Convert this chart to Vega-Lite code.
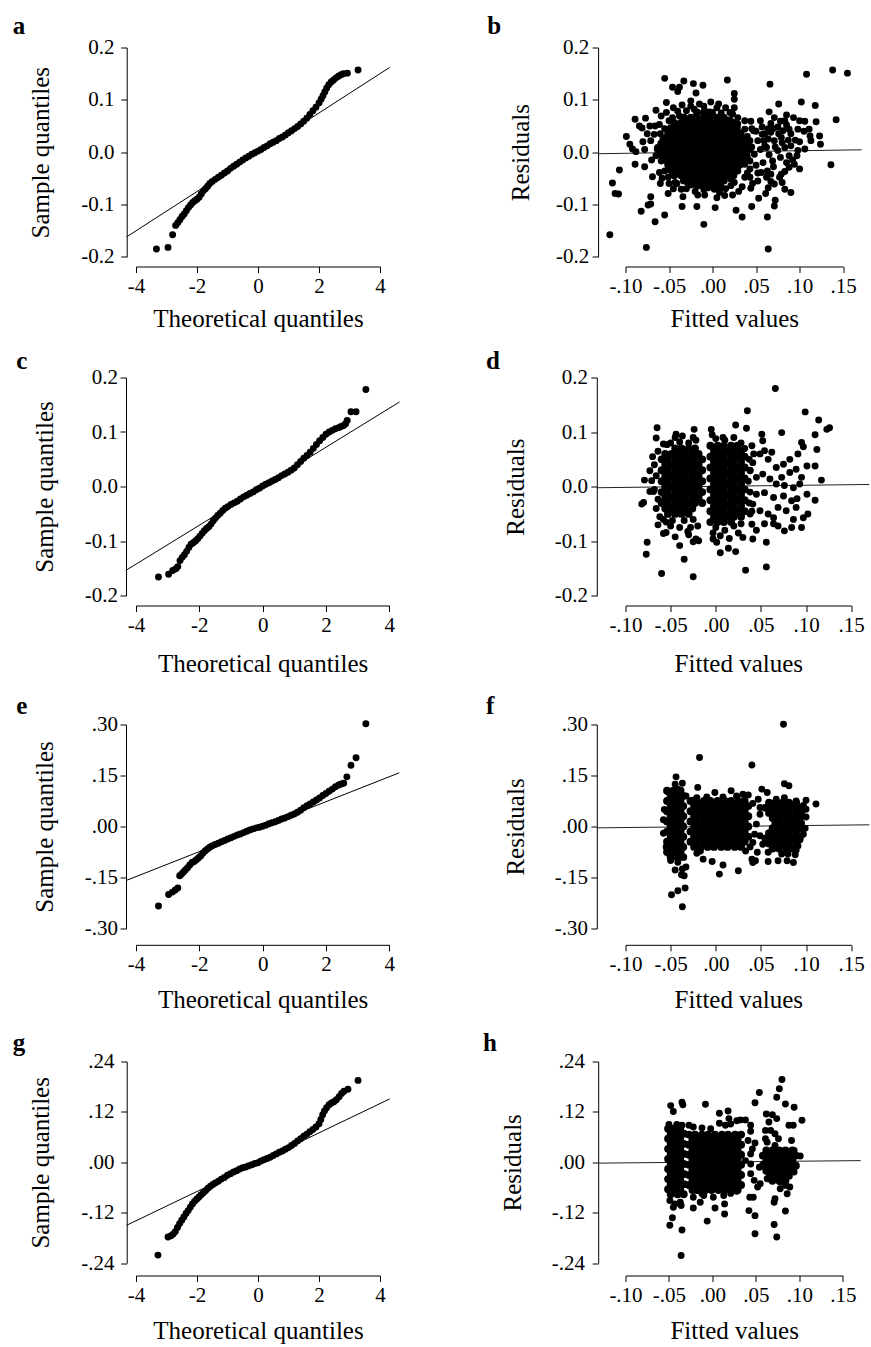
{
"$schema": "https://vega.github.io/schema/vega-lite/v6.json",
"padding": {"left": 12, "top": 13.5, "right": 0, "bottom": 0},
"columns": 2,
"align": "each",
"bounds": "full",
"spacing": {"row": 17, "column": 80.5},
"config": {
 "view": {"stroke": null},
 "font": "Liberation Serif",
 "axis": {"grid": false, "domainColor": "#000", "tickColor": "#000", "labelColor": "#000", "titleColor": "#000", "labelFont": "Liberation Serif", "titleFont": "Liberation Serif", "labelFontSize": 21, "titleFontSize": 25, "titleFontWeight": "normal", "tickSize": 6, "labelPadding": 3, "labelOverlap": false, "labelFlush": false, "labelBound": false, "domainWidth": 1, "tickWidth": 1},
 "title": {"font": "Liberation Serif", "fontSize": 25, "fontWeight": "bold", "anchor": "start", "frame": "group", "color": "#000"}
},
"datasets": {
"la": [{"x":-4.31,"y":-0.162},{"x":4.32,"y":0.162}],
"lc": [{"x":-4.32,"y":-0.154},{"x":4.32,"y":0.155}],
"le": [{"x":-4.316,"y":-0.159},{"x":4.316,"y":0.158}],
"lg": [{"x":-4.31,"y":-0.150},{"x":4.32,"y":0.151}],
"lb": [{"x":-0.1315,"y":-0.003},{"x":0.1713,"y":0.0045}],
"ld": [{"x":-0.1318,"y":-0.002},{"x":0.170,"y":0.004}],
"lf": [{"x":-0.1318,"y":-0.004},{"x":0.170,"y":0.005}],
"lh": [{"x":-0.1314,"y":-0.002},{"x":0.1705,"y":0.004}],
"qa": [{"x":-3.33,"y":-0.185},{"x":-2.95,"y":-0.182},{"x":-2.80,"y":-0.158},{"x":-2.70,"y":-0.140},{"x":-2.63,"y":-0.135},{"x":-2.56,"y":-0.129},{"x":-2.49,"y":-0.123},{"x":-2.42,"y":-0.118},{"x":-2.35,"y":-0.112},{"x":-2.28,"y":-0.106},{"x":-2.21,"y":-0.101},{"x":-2.14,"y":-0.096},{"x":-2.07,"y":-0.093},{"x":-2.00,"y":-0.090},{"x":-1.93,"y":-0.086},{"x":-1.86,"y":-0.080},{"x":-1.79,"y":-0.074},{"x":-1.72,"y":-0.070},{"x":-1.65,"y":-0.065},{"x":-1.58,"y":-0.060},{"x":-1.50,"y":-0.056},{"x":-1.40,"y":-0.052},{"x":-1.30,"y":-0.048},{"x":-1.20,"y":-0.044},{"x":-1.10,"y":-0.040},{"x":-1.00,"y":-0.036},{"x":-0.90,"y":-0.031},{"x":-0.80,"y":-0.027},{"x":-0.70,"y":-0.023},{"x":-0.60,"y":-0.019},{"x":-0.50,"y":-0.015},{"x":-0.40,"y":-0.011},{"x":-0.30,"y":-0.008},{"x":-0.20,"y":-0.004},{"x":-0.10,"y":-0.001},{"x":0.00,"y":0.002},{"x":0.10,"y":0.005},{"x":0.20,"y":0.009},{"x":0.30,"y":0.012},{"x":0.40,"y":0.016},{"x":0.50,"y":0.019},{"x":0.60,"y":0.022},{"x":0.70,"y":0.026},{"x":0.80,"y":0.029},{"x":0.90,"y":0.033},{"x":1.00,"y":0.037},{"x":1.10,"y":0.041},{"x":1.20,"y":0.045},{"x":1.30,"y":0.049},{"x":1.40,"y":0.054},{"x":1.50,"y":0.059},{"x":1.60,"y":0.065},{"x":1.70,"y":0.072},{"x":1.80,"y":0.079},{"x":1.90,"y":0.086},{"x":2.00,"y":0.094},{"x":2.07,"y":0.101},{"x":2.13,"y":0.108},{"x":2.19,"y":0.115},{"x":2.25,"y":0.122},{"x":2.32,"y":0.129},{"x":2.40,"y":0.134},{"x":2.48,"y":0.138},{"x":2.56,"y":0.142},{"x":2.64,"y":0.145},{"x":2.72,"y":0.148},{"x":2.80,"y":0.150},{"x":2.93,"y":0.151},{"x":3.28,"y":0.157}],
"qc": [{"x":-3.29,"y":-0.166},{"x":-2.97,"y":-0.161},{"x":-2.84,"y":-0.154},{"x":-2.74,"y":-0.151},{"x":-2.68,"y":-0.147},{"x":-2.61,"y":-0.136},{"x":-2.54,"y":-0.130},{"x":-2.47,"y":-0.125},{"x":-2.40,"y":-0.119},{"x":-2.33,"y":-0.112},{"x":-2.26,"y":-0.106},{"x":-2.19,"y":-0.103},{"x":-2.12,"y":-0.100},{"x":-2.05,"y":-0.096},{"x":-1.98,"y":-0.091},{"x":-1.91,"y":-0.086},{"x":-1.84,"y":-0.081},{"x":-1.77,"y":-0.077},{"x":-1.70,"y":-0.074},{"x":-1.63,"y":-0.069},{"x":-1.56,"y":-0.063},{"x":-1.49,"y":-0.058},{"x":-1.42,"y":-0.053},{"x":-1.34,"y":-0.049},{"x":-1.26,"y":-0.044},{"x":-1.18,"y":-0.040},{"x":-1.10,"y":-0.037},{"x":-1.00,"y":-0.033},{"x":-0.90,"y":-0.030},{"x":-0.80,"y":-0.027},{"x":-0.70,"y":-0.023},{"x":-0.60,"y":-0.019},{"x":-0.50,"y":-0.016},{"x":-0.40,"y":-0.013},{"x":-0.30,"y":-0.010},{"x":-0.20,"y":-0.006},{"x":-0.10,"y":-0.003},{"x":0.00,"y":0.001},{"x":0.10,"y":0.004},{"x":0.20,"y":0.007},{"x":0.30,"y":0.010},{"x":0.40,"y":0.013},{"x":0.50,"y":0.016},{"x":0.60,"y":0.020},{"x":0.70,"y":0.023},{"x":0.80,"y":0.026},{"x":0.90,"y":0.030},{"x":1.00,"y":0.034},{"x":1.10,"y":0.040},{"x":1.20,"y":0.046},{"x":1.30,"y":0.052},{"x":1.40,"y":0.057},{"x":1.50,"y":0.063},{"x":1.60,"y":0.070},{"x":1.70,"y":0.077},{"x":1.80,"y":0.084},{"x":1.90,"y":0.090},{"x":2.00,"y":0.096},{"x":2.10,"y":0.100},{"x":2.20,"y":0.103},{"x":2.30,"y":0.106},{"x":2.40,"y":0.108},{"x":2.48,"y":0.110},{"x":2.56,"y":0.112},{"x":2.62,"y":0.115},{"x":2.67,"y":0.121},{"x":2.79,"y":0.137},{"x":2.95,"y":0.137},{"x":3.26,"y":0.178}],
"qe": [{"x":-3.29,"y":-0.234},{"x":-2.97,"y":-0.200},{"x":-2.85,"y":-0.193},{"x":-2.76,"y":-0.187},{"x":-2.68,"y":-0.181},{"x":-2.62,"y":-0.145},{"x":-2.56,"y":-0.140},{"x":-2.50,"y":-0.134},{"x":-2.44,"y":-0.128},{"x":-2.37,"y":-0.121},{"x":-2.30,"y":-0.113},{"x":-2.23,"y":-0.106},{"x":-2.16,"y":-0.103},{"x":-2.09,"y":-0.098},{"x":-2.02,"y":-0.092},{"x":-1.95,"y":-0.086},{"x":-1.88,"y":-0.078},{"x":-1.81,"y":-0.071},{"x":-1.74,"y":-0.066},{"x":-1.67,"y":-0.061},{"x":-1.60,"y":-0.057},{"x":-1.50,"y":-0.053},{"x":-1.40,"y":-0.049},{"x":-1.30,"y":-0.045},{"x":-1.20,"y":-0.041},{"x":-1.10,"y":-0.037},{"x":-1.00,"y":-0.033},{"x":-0.90,"y":-0.029},{"x":-0.80,"y":-0.025},{"x":-0.70,"y":-0.022},{"x":-0.60,"y":-0.018},{"x":-0.50,"y":-0.014},{"x":-0.40,"y":-0.010},{"x":-0.30,"y":-0.007},{"x":-0.20,"y":-0.004},{"x":-0.10,"y":-0.002},{"x":0.00,"y":0.001},{"x":0.10,"y":0.004},{"x":0.20,"y":0.008},{"x":0.30,"y":0.011},{"x":0.40,"y":0.014},{"x":0.50,"y":0.018},{"x":0.60,"y":0.022},{"x":0.70,"y":0.025},{"x":0.80,"y":0.029},{"x":0.90,"y":0.033},{"x":1.00,"y":0.037},{"x":1.10,"y":0.042},{"x":1.20,"y":0.048},{"x":1.30,"y":0.055},{"x":1.40,"y":0.061},{"x":1.50,"y":0.066},{"x":1.60,"y":0.072},{"x":1.70,"y":0.078},{"x":1.80,"y":0.084},{"x":1.90,"y":0.091},{"x":2.00,"y":0.097},{"x":2.10,"y":0.104},{"x":2.20,"y":0.110},{"x":2.30,"y":0.117},{"x":2.40,"y":0.122},{"x":2.48,"y":0.125},{"x":2.56,"y":0.127},{"x":2.66,"y":0.146},{"x":2.79,"y":0.180},{"x":2.95,"y":0.202},{"x":3.26,"y":0.302}],
"qg": [{"x":-3.28,"y":-0.221},{"x":-2.95,"y":-0.178},{"x":-2.85,"y":-0.175},{"x":-2.78,"y":-0.171},{"x":-2.71,"y":-0.165},{"x":-2.64,"y":-0.155},{"x":-2.57,"y":-0.146},{"x":-2.50,"y":-0.138},{"x":-2.43,"y":-0.130},{"x":-2.36,"y":-0.122},{"x":-2.29,"y":-0.115},{"x":-2.22,"y":-0.107},{"x":-2.15,"y":-0.099},{"x":-2.08,"y":-0.093},{"x":-2.01,"y":-0.088},{"x":-1.94,"y":-0.083},{"x":-1.87,"y":-0.078},{"x":-1.80,"y":-0.073},{"x":-1.72,"y":-0.068},{"x":-1.64,"y":-0.062},{"x":-1.56,"y":-0.057},{"x":-1.48,"y":-0.053},{"x":-1.40,"y":-0.049},{"x":-1.30,"y":-0.045},{"x":-1.20,"y":-0.040},{"x":-1.10,"y":-0.036},{"x":-1.00,"y":-0.031},{"x":-0.90,"y":-0.027},{"x":-0.80,"y":-0.023},{"x":-0.70,"y":-0.020},{"x":-0.60,"y":-0.016},{"x":-0.50,"y":-0.013},{"x":-0.40,"y":-0.011},{"x":-0.30,"y":-0.008},{"x":-0.20,"y":-0.006},{"x":-0.10,"y":-0.003},{"x":0.00,"y":-0.001},{"x":0.10,"y":0.003},{"x":0.20,"y":0.006},{"x":0.30,"y":0.009},{"x":0.40,"y":0.012},{"x":0.50,"y":0.016},{"x":0.60,"y":0.020},{"x":0.70,"y":0.024},{"x":0.80,"y":0.027},{"x":0.90,"y":0.031},{"x":1.00,"y":0.035},{"x":1.10,"y":0.040},{"x":1.20,"y":0.045},{"x":1.30,"y":0.051},{"x":1.40,"y":0.056},{"x":1.50,"y":0.062},{"x":1.60,"y":0.067},{"x":1.70,"y":0.073},{"x":1.80,"y":0.078},{"x":1.90,"y":0.084},{"x":2.00,"y":0.092},{"x":2.06,"y":0.102},{"x":2.12,"y":0.113},{"x":2.18,"y":0.122},{"x":2.25,"y":0.130},{"x":2.33,"y":0.137},{"x":2.41,"y":0.141},{"x":2.49,"y":0.144},{"x":2.57,"y":0.149},{"x":2.66,"y":0.156},{"x":2.74,"y":0.164},{"x":2.82,"y":0.169},{"x":2.95,"y":0.174},{"x":3.28,"y":0.195}],
"rb": [{"x":-0.055,"y":0.141},{"x":-0.046,"y":0.124},{"x":-0.040,"y":0.116},{"x":-0.038,"y":0.124},{"x":-0.033,"y":0.136},{"x":-0.022,"y":0.131},{"x":-0.011,"y":0.128},{"x":-0.019,"y":0.113},{"x":0.017,"y":0.138},{"x":0.025,"y":0.112},{"x":0.025,"y":0.101},{"x":0.066,"y":0.130},{"x":0.108,"y":0.149},{"x":0.138,"y":0.157},{"x":0.155,"y":0.151},{"x":0.102,"y":0.096},{"x":0.118,"y":0.089},{"x":0.076,"y":0.092},{"x":0.065,"y":0.077},{"x":0.142,"y":0.062},{"x":0.136,"y":-0.024},{"x":-0.118,"y":-0.158},{"x":-0.076,"y":-0.182},{"x":0.064,"y":-0.185},{"x":-0.010,"y":-0.138},{"x":-0.066,"y":-0.133},{"x":-0.082,"y":-0.113},{"x":-0.055,"y":-0.120},{"x":-0.074,"y":-0.101},{"x":-0.071,"y":-0.099},{"x":-0.071,"y":-0.085},{"x":-0.051,"y":-0.079},{"x":-0.115,"y":-0.059},{"x":-0.112,"y":-0.079},{"x":-0.108,"y":-0.080},{"x":-0.107,"y":-0.034},{"x":-0.089,"y":-0.023},{"x":-0.078,"y":-0.028},{"x":-0.069,"y":-0.047},{"x":-0.099,"y":0.030},{"x":-0.095,"y":0.015},{"x":-0.092,"y":0.006},{"x":-0.088,"y":0.001},{"x":-0.089,"y":0.063},{"x":-0.084,"y":0.050},{"x":-0.077,"y":0.065},{"x":-0.081,"y":0.046},{"x":-0.072,"y":0.050},{"x":-0.053,"y":0.095},{"x":-0.025,"y":0.098},{"x":-0.002,"y":0.096},{"x":0.007,"y":0.092},{"x":-0.034,"y":-0.085},{"x":-0.035,"y":-0.104},{"x":-0.018,"y":-0.104},{"x":0.003,"y":-0.106},{"x":-0.009,"y":-0.082},{"x":-0.017,"y":-0.082},{"x":0.005,"y":-0.087},{"x":0.014,"y":-0.083},{"x":0.023,"y":-0.082},{"x":0.027,"y":-0.111},{"x":0.034,"y":-0.124},{"x":0.045,"y":-0.104},{"x":0.053,"y":-0.088},{"x":0.044,"y":-0.069},{"x":0.034,"y":-0.066},{"x":0.061,"y":-0.079},{"x":0.064,"y":-0.068},{"x":0.072,"y":-0.092},{"x":0.071,"y":-0.103},{"x":0.063,"y":-0.124},{"x":0.083,"y":-0.071},{"x":0.090,"y":-0.077},{"x":0.067,"y":-0.056},{"x":0.071,"y":-0.061},{"x":-0.055,"y":-0.036},{"x":-0.061,"y":-0.039},{"x":-0.043,"y":-0.058},{"x":-0.029,"y":-0.058},{"x":-0.041,"y":-0.060},{"x":-0.025,"y":-0.063},{"x":-0.005,"y":-0.068},{"x":0.021,"y":-0.064},{"x":0.037,"y":-0.048},{"x":0.043,"y":-0.048},
{"x":0.067,"y":0.055},{"x":0.067,"y":0.038},{"x":0.075,"y":0.048},{"x":0.078,"y":0.059},{"x":0.085,"y":0.071},{"x":0.093,"y":0.066},{"x":0.100,"y":0.060},{"x":0.106,"y":0.059},{"x":0.119,"y":0.058},{"x":0.111,"y":0.044},{"x":0.112,"y":0.031},{"x":0.123,"y":0.031},{"x":0.113,"y":0.022},{"x":0.124,"y":0.015},{"x":0.106,"y":0.006},{"x":0.097,"y":-0.007},{"x":0.088,"y":-0.007},{"x":0.094,"y":-0.023},{"x":0.100,"y":-0.032},{"x":0.088,"y":-0.029},{"x":0.083,"y":-0.037},{"x":0.079,"y":-0.042},{"x":0.077,"y":-0.048},{"x":0.087,"y":0.023},{"x":0.095,"y":0.023},{"x":0.098,"y":0.044},{"x":0.088,"y":0.044},{"x":0.081,"y":0.041},{"x":0.064,"y":0.025},{"x":0.057,"y":0.048},{"x":0.057,"y":0.034},{"x":0.044,"y":0.059},{"x":0.047,"y":0.041},{"x":0.052,"y":0.022},{"x":0.060,"y":0.012},{"x":0.075,"y":0.003},{"x":0.083,"y":0.009},{"x":0.069,"y":-0.017},{"x":0.063,"y":-0.036},{"x":0.056,"y":-0.039},{"x":0.067,"y":-0.042},{"x":0.052,"y":-0.055},{"x":0.043,"y":-0.032},{"x":0.037,"y":-0.023},{"x":0.071,"y":0.022},{"x":0.079,"y":0.028},{"x":0.090,"y":0.012},{"x":0.098,"y":0.003},{"x":0.071,"y":0.066},{"x":0.083,"y":0.060},{"x":0.062,"y":0.009},{"x":0.043,"y":0.022},{"x":0.048,"y":-0.004},{"x":0.043,"y":-0.017},{"x":0.037,"y":0.044},{"x":0.037,"y":0.060},{"x":0.029,"y":0.066},
{"x":-0.071,"y":0.022},{"x":-0.067,"y":0.034},{"x":-0.063,"y":0.009},{"x":-0.065,"y":-0.007},{"x":-0.059,"y":-0.017},{"x":-0.061,"y":0.053},{"x":-0.059,"y":0.069},{"x":-0.053,"y":0.076},{"x":-0.046,"y":0.066},{"x":-0.038,"y":0.069},{"x":-0.030,"y":0.079},{"x":-0.021,"y":0.082},{"x":-0.009,"y":0.079},{"x":0.000,"y":0.076},{"x":0.012,"y":0.063},{"x":0.020,"y":0.076},{"x":0.023,"y":0.073},{"x":0.029,"y":0.054},{"x":0.033,"y":0.034},{"x":0.035,"y":0.022},{"x":0.033,"y":0.003},{"x":0.031,"y":-0.017},{"x":0.029,"y":-0.036},{"x":0.021,"y":-0.052},{"x":0.010,"y":-0.058},{"x":0.000,"y":-0.061},{"x":-0.013,"y":-0.064},{"x":-0.028,"y":-0.045},{"x":-0.046,"y":-0.042},{"x":-0.051,"y":-0.048},{"x":-0.036,"y":-0.071},{"x":0.002,"y":-0.071},{"x":0.008,"y":-0.077},{"x":-0.075,"y":0.035},{"x":-0.080,"y":0.020},{"x":-0.078,"y":0.005},{"x":-0.070,"y":-0.015},{"x":-0.065,"y":0.080},{"x":-0.045,"y":0.085},{"x":-0.035,"y":0.090},{"x":-0.015,"y":0.092},{"x":0.005,"y":0.085},{"x":0.015,"y":0.085},{"x":-0.045,"y":-0.070},{"x":-0.020,"y":-0.075},{"x":0.015,"y":-0.070},{"x":-0.060,"y":-0.060},
{"x":0.040,"y":0.030},{"x":0.045,"y":0.010},{"x":0.050,"y":0.040},{"x":0.055,"y":0.005},{"x":0.058,"y":-0.020},{"x":0.060,"y":0.035},{"x":0.065,"y":-0.005},{"x":0.070,"y":0.045},{"x":0.072,"y":0.010},{"x":0.078,"y":-0.010},{"x":0.080,"y":0.018},{"x":0.085,"y":-0.020},{"x":0.090,"y":0.035},{"x":0.092,"y":-0.015},{"x":0.050,"y":-0.025},{"x":0.055,"y":0.060},{"x":0.062,"y":-0.048},{"x":0.045,"y":0.045},{"x":0.040,"y":-0.010},{"x":0.052,"y":-0.040},{"x":0.040,"y":-0.040},{"x":0.100,"y":0.020},{"x":0.105,"y":0.040},{"x":0.085,"y":0.052},{"x":0.064,"y":0.045},{"x":0.070,"y":-0.028},{"x":0.076,"y":0.035},{"x":0.059,"y":0.022},{"x":0.046,"y":-0.060},{"x":0.080,"y":-0.058},{"x":-0.050,"y":0.060},{"x":-0.055,"y":0.045},{"x":-0.040,"y":0.078},{"x":-0.025,"y":0.088},{"x":-0.010,"y":0.088},{"x":0.010,"y":0.075},{"x":0.020,"y":0.062},{"x":0.025,"y":0.085},{"x":-0.060,"y":0.035},{"x":-0.066,"y":0.050},{"x":-0.057,"y":0.025},{"x":-0.050,"y":-0.060},{"x":-0.030,"y":-0.070},{"x":-0.010,"y":-0.072},{"x":0.010,"y":-0.068},{"x":0.025,"y":-0.058},{"x":-0.058,"y":-0.050},{"x":0.030,"y":-0.075}],
"rbc": [{"x":-0.018,"y":0.076},{"x":-0.010,"y":0.076},{"x":-0.003,"y":0.076},
{"x":-0.033,"y":0.066},{"x":-0.025,"y":0.066},{"x":-0.018,"y":0.066},{"x":-0.010,"y":0.066},{"x":-0.003,"y":0.066},{"x":0.005,"y":0.066},{"x":0.013,"y":0.066},
{"x":-0.044,"y":0.056},{"x":-0.036,"y":0.056},{"x":-0.029,"y":0.056},{"x":-0.021,"y":0.056},{"x":-0.014,"y":0.056},{"x":-0.006,"y":0.056},{"x":0.001,"y":0.056},{"x":0.009,"y":0.056},{"x":0.016,"y":0.056},{"x":0.024,"y":0.056},
{"x":-0.048,"y":0.046},{"x":-0.040,"y":0.046},{"x":-0.033,"y":0.046},{"x":-0.025,"y":0.046},{"x":-0.018,"y":0.046},{"x":-0.010,"y":0.046},{"x":-0.003,"y":0.046},{"x":0.005,"y":0.046},{"x":0.013,"y":0.046},{"x":0.020,"y":0.046},{"x":0.028,"y":0.046},
{"x":-0.051,"y":0.036},{"x":-0.044,"y":0.036},{"x":-0.036,"y":0.036},{"x":-0.029,"y":0.036},{"x":-0.021,"y":0.036},{"x":-0.014,"y":0.036},{"x":-0.006,"y":0.036},{"x":0.001,"y":0.036},{"x":0.009,"y":0.036},{"x":0.016,"y":0.036},{"x":0.024,"y":0.036},{"x":0.031,"y":0.036},
{"x":-0.055,"y":0.026},{"x":-0.048,"y":0.026},{"x":-0.040,"y":0.026},{"x":-0.033,"y":0.026},{"x":-0.025,"y":0.026},{"x":-0.018,"y":0.026},{"x":-0.010,"y":0.026},{"x":-0.003,"y":0.026},{"x":0.005,"y":0.026},{"x":0.013,"y":0.026},{"x":0.020,"y":0.026},{"x":0.028,"y":0.026},{"x":0.035,"y":0.026},
{"x":-0.059,"y":0.016},{"x":-0.051,"y":0.016},{"x":-0.044,"y":0.016},{"x":-0.036,"y":0.016},{"x":-0.029,"y":0.016},{"x":-0.021,"y":0.016},{"x":-0.014,"y":0.016},{"x":-0.006,"y":0.016},{"x":0.001,"y":0.016},{"x":0.009,"y":0.016},{"x":0.016,"y":0.016},{"x":0.024,"y":0.016},{"x":0.031,"y":0.016},{"x":0.039,"y":0.016},
{"x":-0.063,"y":0.006},{"x":-0.055,"y":0.006},{"x":-0.048,"y":0.006},{"x":-0.040,"y":0.006},{"x":-0.033,"y":0.006},{"x":-0.025,"y":0.006},{"x":-0.018,"y":0.006},{"x":-0.010,"y":0.006},{"x":-0.003,"y":0.006},{"x":0.005,"y":0.006},{"x":0.013,"y":0.006},{"x":0.020,"y":0.006},{"x":0.028,"y":0.006},{"x":0.035,"y":0.006},{"x":0.043,"y":0.006},
{"x":-0.059,"y":-0.004},{"x":-0.051,"y":-0.004},{"x":-0.044,"y":-0.004},{"x":-0.036,"y":-0.004},{"x":-0.029,"y":-0.004},{"x":-0.021,"y":-0.004},{"x":-0.014,"y":-0.004},{"x":-0.006,"y":-0.004},{"x":0.001,"y":-0.004},{"x":0.009,"y":-0.004},{"x":0.016,"y":-0.004},{"x":0.024,"y":-0.004},{"x":0.031,"y":-0.004},{"x":0.039,"y":-0.004},
{"x":-0.055,"y":-0.014},{"x":-0.048,"y":-0.014},{"x":-0.040,"y":-0.014},{"x":-0.033,"y":-0.014},{"x":-0.025,"y":-0.014},{"x":-0.018,"y":-0.014},{"x":-0.010,"y":-0.014},{"x":-0.003,"y":-0.014},{"x":0.005,"y":-0.014},{"x":0.013,"y":-0.014},{"x":0.020,"y":-0.014},{"x":0.028,"y":-0.014},{"x":0.035,"y":-0.014},
{"x":-0.051,"y":-0.024},{"x":-0.044,"y":-0.024},{"x":-0.036,"y":-0.024},{"x":-0.029,"y":-0.024},{"x":-0.021,"y":-0.024},{"x":-0.014,"y":-0.024},{"x":-0.006,"y":-0.024},{"x":0.001,"y":-0.024},{"x":0.009,"y":-0.024},{"x":0.016,"y":-0.024},{"x":0.024,"y":-0.024},{"x":0.031,"y":-0.024},
{"x":-0.048,"y":-0.034},{"x":-0.040,"y":-0.034},{"x":-0.033,"y":-0.034},{"x":-0.025,"y":-0.034},{"x":-0.018,"y":-0.034},{"x":-0.010,"y":-0.034},{"x":-0.003,"y":-0.034},{"x":0.005,"y":-0.034},{"x":0.013,"y":-0.034},{"x":0.020,"y":-0.034},{"x":0.028,"y":-0.034},
{"x":-0.044,"y":-0.044},{"x":-0.036,"y":-0.044},{"x":-0.029,"y":-0.044},{"x":-0.021,"y":-0.044},{"x":-0.014,"y":-0.044},{"x":-0.006,"y":-0.044},{"x":0.001,"y":-0.044},{"x":0.009,"y":-0.044},{"x":0.016,"y":-0.044},{"x":0.024,"y":-0.044},
{"x":-0.033,"y":-0.054},{"x":-0.025,"y":-0.054},{"x":-0.018,"y":-0.054},{"x":-0.010,"y":-0.054},{"x":-0.003,"y":-0.054},{"x":0.005,"y":-0.054},{"x":0.013,"y":-0.054},
{"x":-0.018,"y":-0.064},{"x":-0.010,"y":-0.064},{"x":-0.003,"y":-0.064},{"x":0.005,"y":-0.064}],
"rd": [{"x":0.066,"y":0.180},{"x":0.035,"y":0.139},{"x":0.099,"y":0.137},{"x":0.114,"y":0.122},{"x":0.123,"y":0.105},{"x":0.126,"y":0.108},{"x":0.110,"y":0.095},{"x":0.073,"y":0.099},{"x":0.095,"y":0.081},{"x":0.097,"y":0.073},{"x":0.112,"y":0.068},{"x":-0.065,"y":0.108},{"x":-0.066,"y":0.089},{"x":-0.054,"y":0.077},{"x":-0.024,"y":0.105},{"x":-0.005,"y":0.105},{"x":0.022,"y":0.113},{"x":0.034,"y":0.107},{"x":0.051,"y":0.096},{"x":0.052,"y":0.084},{"x":-0.044,"y":0.096},{"x":-0.037,"y":0.093},{"x":-0.025,"y":0.090},{"x":0.008,"y":0.090},{"x":-0.079,"y":0.012},{"x":-0.073,"y":0.029},{"x":-0.071,"y":0.011},{"x":-0.080,"y":-0.029},{"x":-0.082,"y":-0.032},{"x":-0.073,"y":-0.009},{"x":-0.069,"y":-0.009},{"x":-0.064,"y":-0.023},{"x":-0.076,"y":-0.102},{"x":-0.077,"y":-0.124},{"x":-0.060,"y":-0.159},{"x":-0.025,"y":-0.165},{"x":-0.035,"y":-0.133},{"x":-0.045,"y":-0.092},{"x":-0.040,"y":-0.108},{"x":-0.058,"y":-0.086},{"x":-0.055,"y":-0.084},{"x":-0.050,"y":-0.072},{"x":-0.058,"y":-0.060},{"x":-0.025,"y":-0.101},{"x":-0.022,"y":-0.096},{"x":-0.031,"y":-0.082},{"x":-0.028,"y":-0.075},{"x":-0.019,"y":-0.099},{"x":-0.003,"y":-0.096},{"x":0.001,"y":-0.102},{"x":0.005,"y":-0.121},{"x":0.014,"y":-0.113},{"x":0.022,"y":-0.119},{"x":0.033,"y":-0.153},{"x":0.056,"y":-0.147},{"x":0.030,"y":-0.093},{"x":0.041,"y":-0.096},{"x":0.056,"y":-0.102},{"x":0.045,"y":-0.080},{"x":0.054,"y":-0.068},{"x":0.064,"y":-0.068},{"x":0.076,"y":-0.081},{"x":0.084,"y":-0.075},{"x":0.095,"y":-0.075},{"x":0.086,"y":-0.060},{"x":0.097,"y":-0.057},{"x":0.102,"y":-0.050},{"x":0.110,"y":-0.025},{"x":0.101,"y":-0.014},{"x":0.090,"y":-0.022},{"x":0.117,"y":0.012},{"x":0.110,"y":0.038},{"x":0.101,"y":0.038},{"x":0.091,"y":0.060},{"x":0.082,"y":0.050},{"x":0.075,"y":0.041},{"x":0.062,"y":0.063},{"x":0.058,"y":0.050},{"x":0.067,"y":0.035},{"x":0.049,"y":0.060},{"x":0.054,"y":0.066},{"x":0.041,"y":0.044},{"x":0.038,"y":0.029},{"x":0.045,"y":0.017},{"x":0.052,"y":0.023},{"x":0.060,"y":0.014},{"x":0.073,"y":0.017},{"x":0.082,"y":0.026},{"x":0.089,"y":0.032},{"x":0.095,"y":0.017},{"x":0.067,"y":0.005},{"x":0.076,"y":0.002},{"x":0.086,"y":-0.002},{"x":0.093,"y":0.005},{"x":0.045,"y":-0.014},{"x":0.054,"y":-0.011},{"x":0.064,"y":-0.020},{"x":0.075,"y":-0.017},{"x":0.084,"y":-0.026},{"x":0.069,"y":-0.038},{"x":0.078,"y":-0.044},{"x":0.089,"y":-0.038},{"x":0.041,"y":-0.032},{"x":0.049,"y":-0.044},{"x":0.058,"y":-0.050},{"x":0.064,"y":-0.057},{"x":0.038,"y":-0.050},{"x":0.040,"y":-0.069},{"x":0.069,"y":-0.072},
{"x":-0.068,"y":0.040},{"x":-0.066,"y":0.020},{"x":-0.068,"y":-0.005},{"x":-0.066,"y":-0.040},{"x":-0.070,"y":0.055},{"x":-0.064,"y":0.065},{"x":-0.062,"y":-0.055},{"x":-0.064,"y":-0.070},{"x":-0.058,"y":0.078},{"x":-0.050,"y":0.080},{"x":-0.040,"y":0.082},{"x":-0.030,"y":0.080},{"x":-0.022,"y":0.085},{"x":-0.045,"y":0.090},{"x":-0.055,"y":-0.065},{"x":-0.048,"y":-0.062},{"x":-0.035,"y":-0.062},{"x":-0.025,"y":-0.060},{"x":-0.040,"y":-0.075},{"x":-0.030,"y":-0.088},{"x":-0.020,"y":-0.072},{"x":0.000,"y":0.088},{"x":0.010,"y":0.085},{"x":0.020,"y":0.090},{"x":0.028,"y":0.080},{"x":0.032,"y":0.070},{"x":-0.004,"y":0.095},{"x":0.000,"y":-0.075},{"x":0.010,"y":-0.080},{"x":0.020,"y":-0.072},{"x":0.028,"y":-0.068},{"x":0.005,"y":-0.090},{"x":0.015,"y":-0.095},{"x":-0.003,"y":-0.085},{"x":0.025,"y":-0.085},{"x":0.037,"y":0.050},{"x":0.038,"y":0.030},{"x":0.036,"y":0.010},{"x":0.038,"y":-0.010},{"x":0.037,"y":-0.030},{"x":0.040,"y":-0.045},{"x":0.042,"y":0.060},{"x":0.040,"y":0.075}],
"rdc": [{"x":-0.045,"y":0.070},{"x":-0.038,"y":0.070},{"x":-0.030,"y":0.070},{"x":-0.023,"y":0.070},
{"x":-0.056,"y":0.060},{"x":-0.049,"y":0.060},{"x":-0.041,"y":0.060},{"x":-0.034,"y":0.060},{"x":-0.026,"y":0.060},{"x":-0.019,"y":0.060},
{"x":-0.060,"y":0.050},{"x":-0.053,"y":0.050},{"x":-0.045,"y":0.050},{"x":-0.038,"y":0.050},{"x":-0.030,"y":0.050},{"x":-0.023,"y":0.050},{"x":-0.015,"y":0.050},
{"x":-0.056,"y":0.040},{"x":-0.049,"y":0.040},{"x":-0.041,"y":0.040},{"x":-0.034,"y":0.040},{"x":-0.026,"y":0.040},{"x":-0.019,"y":0.040},
{"x":-0.060,"y":0.030},{"x":-0.053,"y":0.030},{"x":-0.045,"y":0.030},{"x":-0.038,"y":0.030},{"x":-0.030,"y":0.030},{"x":-0.023,"y":0.030},{"x":-0.015,"y":0.030},
{"x":-0.056,"y":0.020},{"x":-0.049,"y":0.020},{"x":-0.041,"y":0.020},{"x":-0.034,"y":0.020},{"x":-0.026,"y":0.020},{"x":-0.019,"y":0.020},
{"x":-0.060,"y":0.010},{"x":-0.053,"y":0.010},{"x":-0.045,"y":0.010},{"x":-0.038,"y":0.010},{"x":-0.030,"y":0.010},{"x":-0.023,"y":0.010},{"x":-0.015,"y":0.010},
{"x":-0.056,"y":0.000},{"x":-0.049,"y":0.000},{"x":-0.041,"y":0.000},{"x":-0.034,"y":0.000},{"x":-0.026,"y":0.000},{"x":-0.019,"y":0.000},
{"x":-0.060,"y":-0.010},{"x":-0.053,"y":-0.010},{"x":-0.045,"y":-0.010},{"x":-0.038,"y":-0.010},{"x":-0.030,"y":-0.010},{"x":-0.023,"y":-0.010},{"x":-0.015,"y":-0.010},
{"x":-0.056,"y":-0.020},{"x":-0.049,"y":-0.020},{"x":-0.041,"y":-0.020},{"x":-0.034,"y":-0.020},{"x":-0.026,"y":-0.020},{"x":-0.019,"y":-0.020},
{"x":-0.060,"y":-0.030},{"x":-0.053,"y":-0.030},{"x":-0.045,"y":-0.030},{"x":-0.038,"y":-0.030},{"x":-0.030,"y":-0.030},{"x":-0.023,"y":-0.030},{"x":-0.015,"y":-0.030},
{"x":-0.056,"y":-0.040},{"x":-0.049,"y":-0.040},{"x":-0.041,"y":-0.040},{"x":-0.034,"y":-0.040},{"x":-0.026,"y":-0.040},
{"x":-0.053,"y":-0.050},{"x":-0.045,"y":-0.050},{"x":-0.038,"y":-0.050},{"x":-0.030,"y":-0.050},
{"x":-0.006,"y":0.075},{"x":0.002,"y":0.075},{"x":0.009,"y":0.075},{"x":0.017,"y":0.075},{"x":0.024,"y":0.075},
{"x":-0.002,"y":0.065},{"x":0.005,"y":0.065},{"x":0.013,"y":0.065},{"x":0.020,"y":0.065},{"x":0.028,"y":0.065},
{"x":-0.006,"y":0.055},{"x":0.002,"y":0.055},{"x":0.009,"y":0.055},{"x":0.017,"y":0.055},{"x":0.024,"y":0.055},{"x":0.032,"y":0.055},
{"x":-0.002,"y":0.045},{"x":0.005,"y":0.045},{"x":0.013,"y":0.045},{"x":0.020,"y":0.045},{"x":0.028,"y":0.045},
{"x":-0.006,"y":0.035},{"x":0.002,"y":0.035},{"x":0.009,"y":0.035},{"x":0.017,"y":0.035},{"x":0.024,"y":0.035},{"x":0.032,"y":0.035},
{"x":-0.002,"y":0.025},{"x":0.005,"y":0.025},{"x":0.013,"y":0.025},{"x":0.020,"y":0.025},{"x":0.028,"y":0.025},
{"x":-0.006,"y":0.015},{"x":0.002,"y":0.015},{"x":0.009,"y":0.015},{"x":0.017,"y":0.015},{"x":0.024,"y":0.015},{"x":0.032,"y":0.015},
{"x":-0.002,"y":0.005},{"x":0.005,"y":0.005},{"x":0.013,"y":0.005},{"x":0.020,"y":0.005},{"x":0.028,"y":0.005},
{"x":-0.006,"y":-0.005},{"x":0.002,"y":-0.005},{"x":0.009,"y":-0.005},{"x":0.017,"y":-0.005},{"x":0.024,"y":-0.005},{"x":0.032,"y":-0.005},
{"x":-0.002,"y":-0.015},{"x":0.005,"y":-0.015},{"x":0.013,"y":-0.015},{"x":0.020,"y":-0.015},{"x":0.028,"y":-0.015},
{"x":-0.006,"y":-0.025},{"x":0.002,"y":-0.025},{"x":0.009,"y":-0.025},{"x":0.017,"y":-0.025},{"x":0.024,"y":-0.025},{"x":0.032,"y":-0.025},
{"x":-0.002,"y":-0.035},{"x":0.005,"y":-0.035},{"x":0.013,"y":-0.035},{"x":0.020,"y":-0.035},{"x":0.028,"y":-0.035},
{"x":-0.006,"y":-0.045},{"x":0.002,"y":-0.045},{"x":0.009,"y":-0.045},{"x":0.017,"y":-0.045},{"x":0.024,"y":-0.045},{"x":0.032,"y":-0.045},
{"x":-0.002,"y":-0.055},{"x":0.005,"y":-0.055},{"x":0.013,"y":-0.055},{"x":0.020,"y":-0.055},{"x":0.028,"y":-0.055},
{"x":-0.006,"y":-0.065},{"x":0.002,"y":-0.065},{"x":0.009,"y":-0.065},{"x":0.017,"y":-0.065}],
"rf": [{"x":0.075,"y":0.301},{"x":-0.018,"y":0.203},{"x":0.040,"y":0.181},{"x":-0.044,"y":0.146},{"x":-0.045,"y":0.124},{"x":-0.037,"y":0.127},{"x":-0.042,"y":0.110},{"x":-0.020,"y":0.115},{"x":0.076,"y":0.126},{"x":0.081,"y":0.120},{"x":0.051,"y":0.110},{"x":0.057,"y":0.100},{"x":0.111,"y":0.066},{"x":0.100,"y":0.077},{"x":0.100,"y":0.051},{"x":0.100,"y":0.028},{"x":0.097,"y":-0.023},{"x":-0.055,"y":-0.060},{"x":-0.045,"y":-0.128},{"x":-0.037,"y":-0.125},{"x":-0.033,"y":-0.119},{"x":-0.035,"y":-0.145},{"x":-0.038,"y":-0.142},{"x":-0.049,"y":-0.201},{"x":-0.042,"y":-0.189},{"x":-0.034,"y":-0.181},{"x":-0.037,"y":-0.236},{"x":0.004,"y":-0.140},{"x":0.025,"y":-0.130},{"x":0.008,"y":-0.113},{"x":-0.004,"y":-0.103},{"x":-0.014,"y":-0.096},{"x":-0.017,"y":-0.072},{"x":-0.021,"y":-0.079},{"x":0.040,"y":-0.096},{"x":0.041,"y":-0.106},{"x":0.044,"y":-0.101},{"x":0.058,"y":-0.103},{"x":0.069,"y":-0.101},{"x":0.079,"y":-0.101},{"x":0.086,"y":-0.106},{"x":0.046,"y":-0.076},{"x":0.058,"y":-0.076},{"x":0.073,"y":-0.081},{"x":0.080,"y":-0.081},{"x":0.088,"y":-0.083},{"x":0.089,"y":-0.070},{"x":0.091,"y":-0.057},{"x":0.038,"y":-0.060},{"x":0.033,"y":-0.072},
{"x":0.049,"y":0.056},{"x":0.049,"y":0.036},{"x":0.045,"y":0.007},{"x":0.043,"y":-0.023},{"x":0.049,"y":-0.027},{"x":0.041,"y":-0.047},{"x":0.052,"y":-0.052},{"x":0.047,"y":0.080},{"x":0.041,"y":0.068},
{"x":-0.021,"y":0.085},{"x":-0.010,"y":0.087},{"x":-0.001,"y":0.100},{"x":0.008,"y":0.087},{"x":0.017,"y":0.105},{"x":0.023,"y":0.090},{"x":0.030,"y":0.095},{"x":0.036,"y":0.093},{"x":-0.033,"y":0.090},{"x":-0.025,"y":0.077},{"x":-0.014,"y":0.071},
{"x":-0.058,"y":0.020},{"x":-0.058,"y":-0.020},{"x":-0.057,"y":0.050},{"x":-0.052,"y":0.100},{"x":-0.040,"y":0.098},{"x":-0.050,"y":-0.100},{"x":-0.042,"y":-0.105},
{"x":0.076,"y":0.085},{"x":0.067,"y":0.080},{"x":0.089,"y":0.075},{"x":0.097,"y":0.062},{"x":0.095,"y":0.040},{"x":0.095,"y":0.010},{"x":0.099,"y":-0.005},{"x":0.093,"y":-0.040}],
"rfc": [{"x":-0.054,"y":0.105},{"x":-0.047,"y":0.105},{"x":-0.039,"y":0.105},
{"x":-0.050,"y":0.090},{"x":-0.043,"y":0.090},{"x":-0.036,"y":0.090},
{"x":-0.054,"y":0.075},{"x":-0.047,"y":0.075},{"x":-0.039,"y":0.075},
{"x":-0.050,"y":0.060},{"x":-0.043,"y":0.060},{"x":-0.036,"y":0.060},
{"x":-0.054,"y":0.045},{"x":-0.047,"y":0.045},{"x":-0.039,"y":0.045},
{"x":-0.050,"y":0.030},{"x":-0.043,"y":0.030},{"x":-0.036,"y":0.030},
{"x":-0.054,"y":0.015},{"x":-0.047,"y":0.015},{"x":-0.039,"y":0.015},
{"x":-0.050,"y":0.000},{"x":-0.043,"y":0.000},{"x":-0.036,"y":0.000},
{"x":-0.054,"y":-0.015},{"x":-0.047,"y":-0.015},{"x":-0.039,"y":-0.015},
{"x":-0.050,"y":-0.030},{"x":-0.043,"y":-0.030},{"x":-0.036,"y":-0.030},
{"x":-0.054,"y":-0.045},{"x":-0.047,"y":-0.045},{"x":-0.039,"y":-0.045},
{"x":-0.050,"y":-0.060},{"x":-0.043,"y":-0.060},{"x":-0.036,"y":-0.060},
{"x":-0.054,"y":-0.075},{"x":-0.047,"y":-0.075},{"x":-0.039,"y":-0.075},
{"x":-0.050,"y":-0.090},{"x":-0.043,"y":-0.090},{"x":-0.036,"y":-0.090},
{"x":-0.028,"y":0.075},{"x":-0.021,"y":0.075},{"x":-0.013,"y":0.075},{"x":-0.006,"y":0.075},{"x":0.002,"y":0.075},{"x":0.010,"y":0.075},{"x":0.017,"y":0.075},{"x":0.025,"y":0.075},{"x":0.032,"y":0.075},
{"x":-0.024,"y":0.060},{"x":-0.017,"y":0.060},{"x":-0.009,"y":0.060},{"x":-0.002,"y":0.060},{"x":0.006,"y":0.060},{"x":0.013,"y":0.060},{"x":0.021,"y":0.060},{"x":0.028,"y":0.060},{"x":0.036,"y":0.060},
{"x":-0.028,"y":0.045},{"x":-0.021,"y":0.045},{"x":-0.013,"y":0.045},{"x":-0.006,"y":0.045},{"x":0.002,"y":0.045},{"x":0.010,"y":0.045},{"x":0.017,"y":0.045},{"x":0.025,"y":0.045},{"x":0.032,"y":0.045},
{"x":-0.024,"y":0.030},{"x":-0.017,"y":0.030},{"x":-0.009,"y":0.030},{"x":-0.002,"y":0.030},{"x":0.006,"y":0.030},{"x":0.013,"y":0.030},{"x":0.021,"y":0.030},{"x":0.028,"y":0.030},{"x":0.036,"y":0.030},
{"x":-0.028,"y":0.015},{"x":-0.021,"y":0.015},{"x":-0.013,"y":0.015},{"x":-0.006,"y":0.015},{"x":0.002,"y":0.015},{"x":0.010,"y":0.015},{"x":0.017,"y":0.015},{"x":0.025,"y":0.015},{"x":0.032,"y":0.015},
{"x":-0.024,"y":0.000},{"x":-0.017,"y":0.000},{"x":-0.009,"y":0.000},{"x":-0.002,"y":0.000},{"x":0.006,"y":0.000},{"x":0.013,"y":0.000},{"x":0.021,"y":0.000},{"x":0.028,"y":0.000},{"x":0.036,"y":0.000},
{"x":-0.028,"y":-0.015},{"x":-0.021,"y":-0.015},{"x":-0.013,"y":-0.015},{"x":-0.006,"y":-0.015},{"x":0.002,"y":-0.015},{"x":0.010,"y":-0.015},{"x":0.017,"y":-0.015},{"x":0.025,"y":-0.015},{"x":0.032,"y":-0.015},
{"x":-0.024,"y":-0.030},{"x":-0.017,"y":-0.030},{"x":-0.009,"y":-0.030},{"x":-0.002,"y":-0.030},{"x":0.006,"y":-0.030},{"x":0.013,"y":-0.030},{"x":0.021,"y":-0.030},{"x":0.028,"y":-0.030},{"x":0.036,"y":-0.030},
{"x":-0.028,"y":-0.045},{"x":-0.021,"y":-0.045},{"x":-0.013,"y":-0.045},{"x":-0.006,"y":-0.045},{"x":0.002,"y":-0.045},{"x":0.010,"y":-0.045},{"x":0.017,"y":-0.045},{"x":0.025,"y":-0.045},{"x":0.032,"y":-0.045},
{"x":-0.024,"y":-0.060},{"x":-0.017,"y":-0.060},{"x":-0.009,"y":-0.060},{"x":-0.002,"y":-0.060},{"x":0.006,"y":-0.060},{"x":0.013,"y":-0.060},{"x":0.021,"y":-0.060},{"x":0.028,"y":-0.060},
{"x":0.059,"y":0.070},{"x":0.066,"y":0.070},{"x":0.074,"y":0.070},{"x":0.081,"y":0.070},{"x":0.089,"y":0.070},
{"x":0.055,"y":0.055},{"x":0.063,"y":0.055},{"x":0.070,"y":0.055},{"x":0.078,"y":0.055},{"x":0.085,"y":0.055},{"x":0.093,"y":0.055},
{"x":0.059,"y":0.040},{"x":0.066,"y":0.040},{"x":0.074,"y":0.040},{"x":0.081,"y":0.040},{"x":0.089,"y":0.040},
{"x":0.063,"y":0.025},{"x":0.070,"y":0.025},{"x":0.078,"y":0.025},{"x":0.085,"y":0.025},{"x":0.093,"y":0.025},
{"x":0.066,"y":0.010},{"x":0.074,"y":0.010},{"x":0.081,"y":0.010},{"x":0.089,"y":0.010},
{"x":0.063,"y":-0.005},{"x":0.070,"y":-0.005},{"x":0.078,"y":-0.005},{"x":0.085,"y":-0.005},{"x":0.093,"y":-0.005},
{"x":0.059,"y":-0.020},{"x":0.066,"y":-0.020},{"x":0.074,"y":-0.020},{"x":0.081,"y":-0.020},{"x":0.089,"y":-0.020},
{"x":0.055,"y":-0.035},{"x":0.063,"y":-0.035},{"x":0.070,"y":-0.035},{"x":0.078,"y":-0.035},{"x":0.085,"y":-0.035},{"x":0.093,"y":-0.035},
{"x":0.059,"y":-0.050},{"x":0.066,"y":-0.050},{"x":0.074,"y":-0.050},{"x":0.081,"y":-0.050},{"x":0.089,"y":-0.050},
{"x":0.063,"y":-0.065},{"x":0.070,"y":-0.065},{"x":0.078,"y":-0.065},{"x":0.085,"y":-0.065}],
"rh": [{"x":-0.048,"y":0.135},{"x":-0.035,"y":0.143},{"x":-0.034,"y":0.137},{"x":-0.045,"y":0.121},{"x":-0.008,"y":0.138},{"x":0.008,"y":0.117},{"x":0.018,"y":0.122},{"x":0.019,"y":0.104},{"x":0.032,"y":0.101},{"x":0.038,"y":0.101},{"x":0.044,"y":0.088},{"x":0.049,"y":0.142},{"x":0.054,"y":0.166},{"x":0.080,"y":0.197},{"x":0.077,"y":0.175},{"x":0.074,"y":0.155},{"x":0.084,"y":0.139},{"x":0.094,"y":0.131},{"x":0.062,"y":0.115},{"x":0.069,"y":0.113},{"x":0.074,"y":0.104},{"x":0.103,"y":0.100},{"x":0.093,"y":0.088},{"x":0.088,"y":0.088},{"x":0.091,"y":0.052},{"x":0.094,"y":0.028},{"x":0.101,"y":0.015},{"x":0.065,"y":0.096},{"x":0.067,"y":0.076},{"x":0.072,"y":0.068},{"x":0.061,"y":0.056},{"x":0.049,"y":0.046},{"x":0.046,"y":0.032},{"x":0.041,"y":0.052},{"x":0.044,"y":0.074},{"x":-0.049,"y":-0.150},{"x":-0.046,"y":-0.132},{"x":-0.045,"y":-0.107},{"x":-0.036,"y":-0.103},{"x":-0.035,"y":-0.161},{"x":-0.036,"y":-0.222},{"x":-0.006,"y":-0.140},{"x":-0.022,"y":-0.109},{"x":-0.014,"y":-0.095},{"x":0.003,"y":-0.109},{"x":0.014,"y":-0.123},{"x":0.014,"y":-0.099},{"x":-0.018,"y":-0.067},{"x":-0.012,"y":-0.075},{"x":0.043,"y":-0.083},{"x":0.047,"y":-0.083},{"x":0.042,"y":-0.115},{"x":0.049,"y":-0.127},{"x":0.052,"y":-0.059},{"x":0.049,"y":-0.170},{"x":0.071,"y":-0.148},{"x":0.074,"y":-0.178},{"x":0.084,"y":-0.116},{"x":0.072,"y":-0.087},{"x":0.071,"y":-0.095},{"x":0.086,"y":-0.075},{"x":0.089,"y":-0.059},{"x":0.094,"y":-0.023},{"x":0.093,"y":-0.008},{"x":0.044,"y":-0.027},{"x":0.048,"y":-0.043},{"x":0.055,"y":-0.051},{"x":0.063,"y":-0.039},{"x":0.072,"y":-0.035},{"x":0.078,"y":-0.047},{"x":0.078,"y":-0.063},{"x":0.084,"y":-0.055},{"x":0.054,"y":-0.012},{"x":0.059,"y":-0.004},{"x":0.038,"y":0.004},{"x":0.044,"y":-0.004},{"x":0.061,"y":0.076},{"x":0.063,"y":0.048},{"x":0.072,"y":0.040},{"x":0.076,"y":0.056},
{"x":-0.041,"y":0.090},{"x":-0.035,"y":0.088},{"x":-0.027,"y":0.088},{"x":-0.050,"y":0.090},{"x":-0.022,"y":0.084},{"x":-0.012,"y":0.082},{"x":-0.002,"y":0.080},{"x":0.008,"y":0.093},{"x":0.015,"y":0.088},{"x":0.021,"y":0.091},{"x":0.028,"y":0.099},{"x":-0.022,"y":-0.083},{"x":-0.010,"y":-0.079},{"x":0.001,"y":-0.083},{"x":0.013,"y":-0.079},{"x":0.021,"y":-0.074},{"x":0.028,"y":-0.069},{"x":-0.049,"y":-0.091},{"x":-0.043,"y":-0.099},{"x":-0.037,"y":-0.095},{"x":0.044,"y":0.020}],
"rhc": [{"x":-0.051,"y":0.080},{"x":-0.044,"y":0.080},{"x":-0.037,"y":0.080},
{"x":-0.048,"y":0.068},{"x":-0.040,"y":0.068},{"x":-0.033,"y":0.068},
{"x":-0.051,"y":0.056},{"x":-0.044,"y":0.056},{"x":-0.037,"y":0.056},
{"x":-0.048,"y":0.044},{"x":-0.040,"y":0.044},{"x":-0.033,"y":0.044},
{"x":-0.051,"y":0.032},{"x":-0.044,"y":0.032},{"x":-0.037,"y":0.032},
{"x":-0.048,"y":0.020},{"x":-0.040,"y":0.020},{"x":-0.033,"y":0.020},
{"x":-0.051,"y":0.008},{"x":-0.044,"y":0.008},{"x":-0.037,"y":0.008},
{"x":-0.048,"y":-0.004},{"x":-0.040,"y":-0.004},{"x":-0.033,"y":-0.004},
{"x":-0.051,"y":-0.016},{"x":-0.044,"y":-0.016},{"x":-0.037,"y":-0.016},
{"x":-0.048,"y":-0.028},{"x":-0.040,"y":-0.028},{"x":-0.033,"y":-0.028},
{"x":-0.051,"y":-0.040},{"x":-0.044,"y":-0.040},{"x":-0.037,"y":-0.040},
{"x":-0.048,"y":-0.052},{"x":-0.040,"y":-0.052},{"x":-0.033,"y":-0.052},
{"x":-0.051,"y":-0.064},{"x":-0.044,"y":-0.064},{"x":-0.037,"y":-0.064},
{"x":-0.048,"y":-0.076},{"x":-0.040,"y":-0.076},{"x":-0.033,"y":-0.076},
{"x":-0.027,"y":0.066},{"x":-0.020,"y":0.066},{"x":-0.012,"y":0.066},{"x":-0.005,"y":0.066},{"x":0.003,"y":0.066},{"x":0.011,"y":0.066},{"x":0.018,"y":0.066},{"x":0.026,"y":0.066},{"x":0.033,"y":0.066},
{"x":-0.023,"y":0.054},{"x":-0.016,"y":0.054},{"x":-0.008,"y":0.054},{"x":-0.001,"y":0.054},{"x":0.007,"y":0.054},{"x":0.014,"y":0.054},{"x":0.022,"y":0.054},{"x":0.029,"y":0.054},
{"x":-0.027,"y":0.042},{"x":-0.020,"y":0.042},{"x":-0.012,"y":0.042},{"x":-0.005,"y":0.042},{"x":0.003,"y":0.042},{"x":0.011,"y":0.042},{"x":0.018,"y":0.042},{"x":0.026,"y":0.042},{"x":0.033,"y":0.042},
{"x":-0.023,"y":0.030},{"x":-0.016,"y":0.030},{"x":-0.008,"y":0.030},{"x":-0.001,"y":0.030},{"x":0.007,"y":0.030},{"x":0.014,"y":0.030},{"x":0.022,"y":0.030},{"x":0.029,"y":0.030},
{"x":-0.027,"y":0.018},{"x":-0.020,"y":0.018},{"x":-0.012,"y":0.018},{"x":-0.005,"y":0.018},{"x":0.003,"y":0.018},{"x":0.011,"y":0.018},{"x":0.018,"y":0.018},{"x":0.026,"y":0.018},{"x":0.033,"y":0.018},
{"x":-0.023,"y":0.006},{"x":-0.016,"y":0.006},{"x":-0.008,"y":0.006},{"x":-0.001,"y":0.006},{"x":0.007,"y":0.006},{"x":0.014,"y":0.006},{"x":0.022,"y":0.006},{"x":0.029,"y":0.006},
{"x":-0.027,"y":-0.006},{"x":-0.020,"y":-0.006},{"x":-0.012,"y":-0.006},{"x":-0.005,"y":-0.006},{"x":0.003,"y":-0.006},{"x":0.011,"y":-0.006},{"x":0.018,"y":-0.006},{"x":0.026,"y":-0.006},{"x":0.033,"y":-0.006},
{"x":-0.023,"y":-0.018},{"x":-0.016,"y":-0.018},{"x":-0.008,"y":-0.018},{"x":-0.001,"y":-0.018},{"x":0.007,"y":-0.018},{"x":0.014,"y":-0.018},{"x":0.022,"y":-0.018},{"x":0.029,"y":-0.018},
{"x":-0.027,"y":-0.030},{"x":-0.020,"y":-0.030},{"x":-0.012,"y":-0.030},{"x":-0.005,"y":-0.030},{"x":0.003,"y":-0.030},{"x":0.011,"y":-0.030},{"x":0.018,"y":-0.030},{"x":0.026,"y":-0.030},{"x":0.033,"y":-0.030},
{"x":-0.023,"y":-0.042},{"x":-0.016,"y":-0.042},{"x":-0.008,"y":-0.042},{"x":-0.001,"y":-0.042},{"x":0.007,"y":-0.042},{"x":0.014,"y":-0.042},{"x":0.022,"y":-0.042},{"x":0.029,"y":-0.042},
{"x":-0.027,"y":-0.054},{"x":-0.020,"y":-0.054},{"x":-0.012,"y":-0.054},{"x":-0.005,"y":-0.054},{"x":0.003,"y":-0.054},{"x":0.011,"y":-0.054},{"x":0.018,"y":-0.054},{"x":0.026,"y":-0.054},{"x":0.033,"y":-0.054},
{"x":-0.023,"y":-0.066},{"x":-0.016,"y":-0.066},{"x":-0.008,"y":-0.066},{"x":-0.001,"y":-0.066},{"x":0.007,"y":-0.066},{"x":0.014,"y":-0.066},{"x":0.022,"y":-0.066},{"x":0.029,"y":-0.066},
{"x":0.062,"y":0.028},{"x":0.069,"y":0.028},{"x":0.077,"y":0.028},{"x":0.084,"y":0.028},{"x":0.092,"y":0.028},
{"x":0.058,"y":0.016},{"x":0.066,"y":0.016},{"x":0.073,"y":0.016},{"x":0.081,"y":0.016},{"x":0.088,"y":0.016},{"x":0.096,"y":0.016},
{"x":0.062,"y":0.004},{"x":0.069,"y":0.004},{"x":0.077,"y":0.004},{"x":0.084,"y":0.004},{"x":0.092,"y":0.004},
{"x":0.058,"y":-0.008},{"x":0.066,"y":-0.008},{"x":0.073,"y":-0.008},{"x":0.081,"y":-0.008},{"x":0.088,"y":-0.008},{"x":0.096,"y":-0.008},
{"x":0.062,"y":-0.020},{"x":0.069,"y":-0.020},{"x":0.077,"y":-0.020},{"x":0.084,"y":-0.020},{"x":0.092,"y":-0.020},
{"x":0.066,"y":-0.032},{"x":0.073,"y":-0.032},{"x":0.081,"y":-0.032},{"x":0.088,"y":-0.032},
{"x":0.069,"y":-0.044},{"x":0.077,"y":-0.044},{"x":0.084,"y":-0.044}]
},
"concat": [
{"width": 244, "height": 209.3, "title": {"text": "a", "dx": -123.3, "offset": -2.8},
 "layer": [
  {"data": {"name": "la"}, "mark": {"type": "line", "color": "#000", "strokeWidth": 1, "clip": false},
   "encoding": {
    "x": {"field": "x", "type": "quantitative", "scale": {"domain": [-4, 4], "nice": false, "zero": false}, "axis": {"title": "Theoretical quantiles", "values": [-4, -2, 0, 2, 4], "labelExpr": "(datum.value < 0 ? '-' : '') + format(abs(datum.value), 'd')", "offset": 9.7, "titlePadding": 10}},
    "y": {"field": "y", "type": "quantitative", "scale": {"domain": [-0.2, 0.2], "nice": false, "zero": false}, "axis": {"title": "Sample quantiles", "values": [-0.2, -0.1, 0, 0.1, 0.2], "labelExpr": "(datum.value < 0 ? '-' : '') + format(abs(datum.value), '.1f')", "offset": 9.3, "labelPadding": 6.7, "titlePadding": 27}}}},
  {"data": {"name": "qa"}, "mark": {"type": "circle", "size": 48, "color": "#000", "opacity": 1},
   "encoding": {"x": {"field": "x", "type": "quantitative"}, "y": {"field": "y", "type": "quantitative"}}}
 ]},
{"width": 217.6, "height": 209.3, "title": {"text": "b", "dx": -138.2, "offset": -2.8},
 "layer": [
  {"data": {"name": "lb"}, "mark": {"type": "line", "color": "#222", "strokeWidth": 1, "clip": false},
   "encoding": {
    "x": {"field": "x", "type": "quantitative", "scale": {"domain": [-0.1, 0.15], "nice": false, "zero": false}, "axis": {"title": "Fitted values", "values": [-0.1, -0.05, 0, 0.05, 0.1, 0.15], "labelExpr": "(datum.value < 0 ? '-' : '') + substring(format(abs(datum.value), '.2f'), 1)", "offset": 9.7, "titlePadding": 10}},
    "y": {"field": "y", "type": "quantitative", "scale": {"domain": [-0.2, 0.2], "nice": false, "zero": false}, "axis": {"title": "Residuals", "values": [-0.2, -0.1, 0, 0.1, 0.2], "labelExpr": "(datum.value < 0 ? '-' : '') + format(abs(datum.value), '.1f')", "offset": 27.4, "labelPadding": 3.3, "titlePadding": 22.3}}}},
  {"data": {"name": "rb"}, "mark": {"type": "circle", "size": 48, "color": "#000", "opacity": 1},
   "encoding": {"x": {"field": "x", "type": "quantitative"}, "y": {"field": "y", "type": "quantitative"}}},
  {"data": {"name": "rbc"}, "mark": {"type": "circle", "size": 62, "color": "#000", "opacity": 1},
   "encoding": {"x": {"field": "x", "type": "quantitative"}, "y": {"field": "y", "type": "quantitative"}}}
 ]},
{"width": 253.3, "height": 218, "title": {"text": "c", "dx": -119.7, "offset": -7.5},
 "layer": [
  {"data": {"name": "lc"}, "mark": {"type": "line", "color": "#000", "strokeWidth": 1, "clip": false},
   "encoding": {
    "x": {"field": "x", "type": "quantitative", "scale": {"domain": [-4, 4], "nice": false, "zero": false}, "axis": {"title": "Theoretical quantiles", "values": [-4, -2, 0, 2, 4], "labelExpr": "(datum.value < 0 ? '-' : '') + format(abs(datum.value), 'd')", "offset": 10, "titlePadding": 16}},
    "y": {"field": "y", "type": "quantitative", "scale": {"domain": [-0.2, 0.2], "nice": false, "zero": false}, "axis": {"title": "Sample quantiles", "values": [-0.2, -0.1, 0, 0.1, 0.2], "labelExpr": "(datum.value < 0 ? '-' : '') + format(abs(datum.value), '.1f')", "offset": 10, "labelPadding": 2.4, "titlePadding": 27}}}},
  {"data": {"name": "qc"}, "mark": {"type": "circle", "size": 48, "color": "#000", "opacity": 1},
   "encoding": {"x": {"field": "x", "type": "quantitative"}, "y": {"field": "y", "type": "quantitative"}}}
 ]},
{"width": 225.7, "height": 218.3, "title": {"text": "d", "dx": -139.5, "offset": -7.5},
 "layer": [
  {"data": {"name": "ld"}, "mark": {"type": "line", "color": "#222", "strokeWidth": 1, "clip": false},
   "encoding": {
    "x": {"field": "x", "type": "quantitative", "scale": {"domain": [-0.1, 0.15], "nice": false, "zero": false}, "axis": {"title": "Fitted values", "values": [-0.1, -0.05, 0, 0.05, 0.1, 0.15], "labelExpr": "(datum.value < 0 ? '-' : '') + substring(format(abs(datum.value), '.2f'), 1)", "offset": 9.7, "titlePadding": 16}},
    "y": {"field": "y", "type": "quantitative", "scale": {"domain": [-0.2, 0.2], "nice": false, "zero": false}, "axis": {"title": "Residuals", "values": [-0.2, -0.1, 0, 0.1, 0.2], "labelExpr": "(datum.value < 0 ? '-' : '') + format(abs(datum.value), '.1f')", "offset": 28.7, "labelPadding": 3.3, "titlePadding": 25.5}}}},
  {"data": {"name": "rd"}, "mark": {"type": "circle", "size": 48, "color": "#000", "opacity": 1},
   "encoding": {"x": {"field": "x", "type": "quantitative"}, "y": {"field": "y", "type": "quantitative"}}},
  {"data": {"name": "rdc"}, "mark": {"type": "circle", "size": 62, "color": "#000", "opacity": 1},
   "encoding": {"x": {"field": "x", "type": "quantitative"}, "y": {"field": "y", "type": "quantitative"}}}
 ]},
{"width": 253.3, "height": 204, "title": {"text": "e", "dx": -119.7, "offset": -5.2},
 "layer": [
  {"data": {"name": "le"}, "mark": {"type": "line", "color": "#000", "strokeWidth": 1, "clip": false},
   "encoding": {
    "x": {"field": "x", "type": "quantitative", "scale": {"domain": [-4, 4], "nice": false, "zero": false}, "axis": {"title": "Theoretical quantiles", "values": [-4, -2, 0, 2, 4], "labelExpr": "(datum.value < 0 ? '-' : '') + format(abs(datum.value), 'd')", "offset": 16.3, "titlePadding": 13}},
    "y": {"field": "y", "type": "quantitative", "scale": {"domain": [-0.3, 0.3], "nice": false, "zero": false}, "axis": {"title": "Sample quantiles", "values": [-0.3, -0.15, 0, 0.15, 0.3], "labelExpr": "(datum.value < 0 ? '-' : '') + substring(format(abs(datum.value), '.2f'), 1)", "offset": 10, "labelPadding": 2.4, "titlePadding": 27}}}},
  {"data": {"name": "qe"}, "mark": {"type": "circle", "size": 48, "color": "#000", "opacity": 1},
   "encoding": {"x": {"field": "x", "type": "quantitative"}, "y": {"field": "y", "type": "quantitative"}}}
 ]},
{"width": 225.7, "height": 204, "title": {"text": "f", "dx": -139.5, "offset": -5.2},
 "layer": [
  {"data": {"name": "lf"}, "mark": {"type": "line", "color": "#222", "strokeWidth": 1, "clip": false},
   "encoding": {
    "x": {"field": "x", "type": "quantitative", "scale": {"domain": [-0.1, 0.15], "nice": false, "zero": false}, "axis": {"title": "Fitted values", "values": [-0.1, -0.05, 0, 0.05, 0.1, 0.15], "labelExpr": "(datum.value < 0 ? '-' : '') + substring(format(abs(datum.value), '.2f'), 1)", "offset": 16.3, "titlePadding": 13}},
    "y": {"field": "y", "type": "quantitative", "scale": {"domain": [-0.3, 0.3], "nice": false, "zero": false}, "axis": {"title": "Residuals", "values": [-0.3, -0.15, 0, 0.15, 0.3], "labelExpr": "(datum.value < 0 ? '-' : '') + substring(format(abs(datum.value), '.2f'), 1)", "offset": 28.7, "labelPadding": 3.3, "titlePadding": 25.5}}}},
  {"data": {"name": "rf"}, "mark": {"type": "circle", "size": 48, "color": "#000", "opacity": 1},
   "encoding": {"x": {"field": "x", "type": "quantitative"}, "y": {"field": "y", "type": "quantitative"}}},
  {"data": {"name": "rfc"}, "mark": {"type": "circle", "size": 62, "color": "#000", "opacity": 1},
   "encoding": {"x": {"field": "x", "type": "quantitative"}, "y": {"field": "y", "type": "quantitative"}}}
 ]},
{"width": 244, "height": 201.6, "title": {"text": "g", "dx": -123.3, "offset": -5.8},
 "layer": [
  {"data": {"name": "lg"}, "mark": {"type": "line", "color": "#000", "strokeWidth": 1, "clip": false},
   "encoding": {
    "x": {"field": "x", "type": "quantitative", "scale": {"domain": [-4, 4], "nice": false, "zero": false}, "axis": {"title": "Theoretical quantiles", "values": [-4, -2, 0, 2, 4], "labelExpr": "(datum.value < 0 ? '-' : '') + format(abs(datum.value), 'd')", "offset": 12.4, "titlePadding": 13}},
    "y": {"field": "y", "type": "quantitative", "scale": {"domain": [-0.24, 0.24], "nice": false, "zero": false}, "axis": {"title": "Sample quantiles", "values": [-0.24, -0.12, 0, 0.12, 0.24], "labelExpr": "(datum.value < 0 ? '-' : '') + substring(format(abs(datum.value), '.2f'), 1)", "offset": 9.3, "labelPadding": 6.7, "titlePadding": 27}}}},
  {"data": {"name": "qg"}, "mark": {"type": "circle", "size": 48, "color": "#000", "opacity": 1},
   "encoding": {"x": {"field": "x", "type": "quantitative"}, "y": {"field": "y", "type": "quantitative"}}}
 ]},
{"width": 217.3, "height": 201.6, "title": {"text": "h", "dx": -142.5, "offset": -5.8},
 "layer": [
  {"data": {"name": "lh"}, "mark": {"type": "line", "color": "#222", "strokeWidth": 1, "clip": false},
   "encoding": {
    "x": {"field": "x", "type": "quantitative", "scale": {"domain": [-0.1, 0.15], "nice": false, "zero": false}, "axis": {"title": "Fitted values", "values": [-0.1, -0.05, 0, 0.05, 0.1, 0.15], "labelExpr": "(datum.value < 0 ? '-' : '') + substring(format(abs(datum.value), '.2f'), 1)", "offset": 12.4, "titlePadding": 13}},
    "y": {"field": "y", "type": "quantitative", "scale": {"domain": [-0.24, 0.24], "nice": false, "zero": false}, "axis": {"title": "Residuals", "values": [-0.24, -0.12, 0, 0.12, 0.24], "labelExpr": "(datum.value < 0 ? '-' : '') + substring(format(abs(datum.value), '.2f'), 1)", "offset": 27.3, "labelPadding": 7.7, "titlePadding": 25.5}}}},
  {"data": {"name": "rh"}, "mark": {"type": "circle", "size": 48, "color": "#000", "opacity": 1},
   "encoding": {"x": {"field": "x", "type": "quantitative"}, "y": {"field": "y", "type": "quantitative"}}},
  {"data": {"name": "rhc"}, "mark": {"type": "circle", "size": 62, "color": "#000", "opacity": 1},
   "encoding": {"x": {"field": "x", "type": "quantitative"}, "y": {"field": "y", "type": "quantitative"}}}
 ]}
]
}
